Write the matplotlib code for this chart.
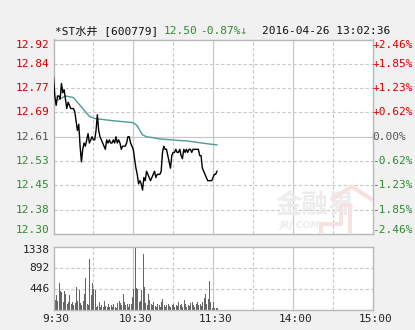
import matplotlib
matplotlib.use("Agg")
import matplotlib.pyplot as plt

plt.rcParams['font.family'] = ['DejaVu Sans Mono', 'Noto Sans CJK SC']

# ---------------- data ----------------
prev_close = 12.61
y_min, y_max = 12.30, 12.92
vol_max = 1338

price = [12.80, 12.74, 12.71, 12.74, 12.74, 12.73, 12.78, 12.75, 12.76, 12.73,
         12.70, 12.72, 12.71, 12.70, 12.70, 12.70, 12.69, 12.66, 12.63, 12.65,
         12.58, 12.53, 12.57, 12.59, 12.58, 12.60, 12.62, 12.59, 12.60, 12.61,
         12.60, 12.60, 12.63, 12.68, 12.63, 12.61, 12.60, 12.59, 12.58, 12.57,
         12.60, 12.59, 12.60, 12.59, 12.59, 12.60, 12.59, 12.61, 12.59, 12.60,
         12.59, 12.57, 12.58, 12.58, 12.58, 12.59, 12.61, 12.61, 12.59, 12.58,
         12.57, 12.54, 12.51, 12.49, 12.46, 12.47, 12.46, 12.44, 12.48, 12.47,
         12.50, 12.49, 12.48, 12.47, 12.48, 12.49, 12.50, 12.48, 12.49, 12.49,
         12.49, 12.50, 12.56, 12.58, 12.57, 12.57, 12.55, 12.53, 12.51, 12.55,
         12.56, 12.56, 12.57, 12.56, 12.56, 12.57, 12.55, 12.54, 12.57, 12.56,
         12.57, 12.56, 12.57, 12.57, 12.56, 12.57, 12.57, 12.57, 12.57, 12.57,
         12.55, 12.55, 12.51, 12.50, 12.49, 12.48, 12.47, 12.47, 12.47, 12.47,
         12.48, 12.49, 12.49, 12.50]

avg_minutes = [0, 9, 15, 18, 22, 27, 31, 45, 50, 60, 63, 65, 67, 70, 75, 80, 95, 100, 115, 123]
avg_price = [12.72, 12.74, 12.735, 12.72, 12.70, 12.675, 12.668, 12.661, 12.659, 12.655,
             12.645, 12.63, 12.616, 12.61, 12.607, 12.603, 12.598, 12.597, 12.588, 12.584]

volume = [593, 210, 320, 190, 557, 390, 380, 170, 400, 330,
          120, 160, 318, 120, 150, 90, 130, 484, 180, 412,
          140, 100, 190, 340, 665, 120, 90, 1085, 300, 557,
          448, 412, 60, 70, 150, 50, 90, 60, 180, 80,
          50, 110, 50, 90, 60, 120, 60, 40, 140, 190,
          130, 90, 340, 150, 90, 120, 50, 110, 120, 260,
          448, 1338, 460, 448, 160, 190, 412, 1190, 484, 130,
          90, 340, 200, 120, 90, 150, 80, 50, 120, 90,
          50, 150, 231, 100, 60, 90, 120, 70, 50, 100,
          110, 60, 90, 70, 150, 90, 110, 50, 210, 110,
          60, 90, 80, 130, 150, 100, 60, 110, 150, 100,
          120, 70, 170, 253, 340, 120, 230, 607, 160, 40,
          170, 40, 30, 25]

price_levels = [12.92, 12.84, 12.77, 12.69, 12.61, 12.53, 12.45, 12.38, 12.30]
price_labels = ['12.92', '12.84', '12.77', '12.69', '12.61', '12.53', '12.45', '12.38', '12.30']
pct_labels = ['+2.46%', '+1.85%', '+1.23%', '+0.62%', '0.00%', '-0.62%', '-1.23%', '-1.85%', '-2.46%']
vol_ticks = [1338, 892, 446]
time_ticks = [0, 60, 120, 180, 240]
time_labels = ['9:30', '10:30', '11:30', '14:00', '15:00']

stock_name = '*ST水井 [600779]'
last_price = '12.50'
change_pct = '-0.87%↓'
timestamp = '2016-04-26 13:02:36'

# ---------------- style ----------------
RED = '#d40000'
GREEN = '#2e8b2e'
GRAY = '#555555'
GRID = '#c8c8c8'
BORDER = '#b8b8b8'
W, H = 415, 330

fig = plt.figure(figsize=(W / 100, H / 100), dpi=100, facecolor='#f1f1f1')

def rect(l, t, r, b):
    return [l / W, (H - b) / H, (r - l) / W, (b - t) / H]

axp = fig.add_axes(rect(53.5, 39.5, 372.5, 234))
axv = fig.add_axes(rect(53.5, 247, 372.5, 309.5))

n_levels = len(price_levels)
levels_exact = [prev_close + (y_max - prev_close) * (4 - i) / 4 for i in range(n_levels)]

for ax in (axp, axv):
    ax.set_facecolor('white')
    ax.set_xlim(0, 240)
    ax.set_xticks([])
    ax.set_yticks([])
    for s in ax.spines.values():
        s.set_color(BORDER)
        s.set_linewidth(1)
    for m in [30, 90, 150, 210]:
        ax.axvline(m, color=GRID, lw=0.8, ls=(0, (3, 2)), zorder=0)
    for m in [60, 120, 180]:
        ax.axvline(m, color=GRID, lw=0.9, zorder=0)

axp.set_ylim(y_min, y_max)
for i, lv in enumerate(levels_exact):
    if i in (0, n_levels - 1):
        continue
    if i == 4:
        axp.axhline(lv, color=GRID, lw=0.9, zorder=0)
    else:
        axp.axhline(lv, color=GRID, lw=0.8, ls=(0, (3, 2)), zorder=0)

# watermark
axp.text(0.82, 0.145, '金融界', transform=axp.transAxes, ha='center', va='center',
         fontsize=19, fontweight='bold', color='#ececec', family=['Noto Sans CJK SC'], zorder=0)
axp.text(0.77, 0.045, 'JRJ.COM', transform=axp.transAxes, ha='center', va='center',
         fontsize=6.5, fontweight='bold', style='italic', color='#ececec',
         family=['DejaVu Sans'], zorder=0)
axp.plot([0.84, 0.84, 0.90, 0.90, 0.93, 0.93], [0.005, 0.05, 0.05, 0.15, 0.15, 0.005],
         transform=axp.transAxes, color='#f7e2e2', lw=3, zorder=0, solid_capstyle='butt')
axp.plot([0.875, 0.935, 0.995], [0.18, 0.245, 0.18], transform=axp.transAxes,
         color='#f7e2e2', lw=3, zorder=0)

minutes = list(range(len(price)))
axp.plot(avg_minutes, avg_price, color='#4d9b97', lw=1.0, zorder=2)
axp.plot(minutes, price, color='black', lw=1.0, zorder=3)

# left/right price labels
label_y = list(levels_exact)
label_y[0] = y_max - 0.018
label_y[-1] = y_min + 0.013
for i, (lab, pl, yy) in enumerate(zip(price_labels, pct_labels, label_y)):
    c = RED if i < 4 else (GRAY if i == 4 else GREEN)
    axp.text(-0.012, yy, lab, transform=axp.get_yaxis_transform(), ha='right', va='center',
             fontsize=8, color=c)
    axp.text(1.0, yy, pl, transform=axp.get_yaxis_transform(), ha='left', va='center',
             fontsize=8, color=c)

# volume
axv.set_ylim(0, vol_max)
for v in vol_ticks[1:]:
    axv.axhline(v, color=GRID, lw=0.8, ls=(0, (3, 2)), zorder=0)
axv.bar(minutes, volume, width=0.75, align='edge', color='#666666', zorder=2)
for v in vol_ticks:
    yy = v - 60 if v == vol_max else v
    axv.text(-0.012, yy, str(v), transform=axv.get_yaxis_transform(), ha='right', va='center',
             fontsize=8, color='#222222')
for t, lab in zip(time_ticks, time_labels):
    axv.text(t + 2, -0.15, lab, transform=axv.get_xaxis_transform(), ha='center', va='center',
             fontsize=8, color='#222222')

# header
fig.text(55 / W, 1 - 31 / H, stock_name, ha='left', va='center', fontsize=8,
         color='#111111', family=['DejaVu Sans Mono', 'Noto Sans CJK SC'])
fig.text(164 / W, 1 - 31 / H, last_price, ha='left', va='center', fontsize=8, color=GREEN)
fig.text(200 / W, 1 - 31 / H, change_pct, ha='left', va='center', fontsize=8, color=GREEN,
         family=['DejaVu Sans Mono', 'DejaVu Sans'])
fig.text(262 / W, 1 - 31 / H, timestamp, ha='left', va='center', fontsize=8, color='#111111')

fig.savefig('out.png', dpi=100, facecolor=fig.get_facecolor())
